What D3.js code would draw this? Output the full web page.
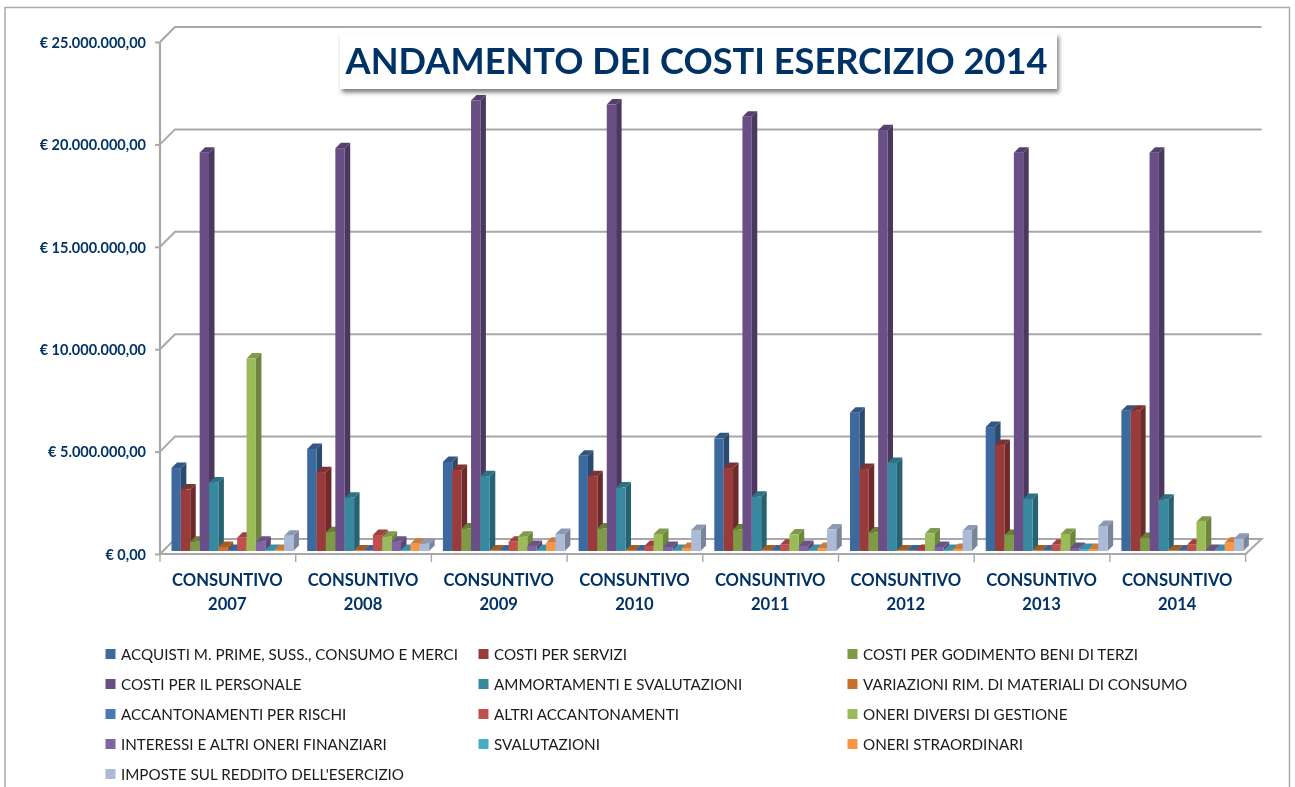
<!DOCTYPE html>
<html><head><meta charset="utf-8">
<script src="https://cdn.jsdelivr.net/npm/d3@7/dist/d3.min.js"></script>
<style>html,body{margin:0;padding:0;background:#fff}svg{display:block}</style></head>
<body><svg id="c" width="1295" height="787"></svg>
<script>
const years = ["2007","2008","2009","2010","2011","2012","2013","2014"];
const yTicks = [0,5e6,10e6,15e6,20e6,25e6];
const seriesNames = ["ACQUISTI M. PRIME, SUSS., CONSUMO E MERCI","COSTI PER SERVIZI","COSTI PER GODIMENTO BENI DI TERZI","COSTI PER IL PERSONALE","AMMORTAMENTI E SVALUTAZIONI","VARIAZIONI RIM. DI MATERIALI DI CONSUMO","ACCANTONAMENTI PER RISCHI","ALTRI ACCANTONAMENTI","ONERI DIVERSI DI GESTIONE","INTERESSI E ALTRI ONERI FINANZIARI","SVALUTAZIONI","ONERI STRAORDINARI","IMPOSTE SUL REDDITO DELL'ESERCIZIO"];
const seriesColors = ["#3e6a9e","#9a3b3a","#7f9a45","#694f85","#37899f","#c8702a","#4a7ab5","#c0504d","#9bbb59","#8064a2","#4bacc6","#f79646","#aabad7"];
const acquisti = [4.05,4.98,4.35,4.65,5.5,6.75,6.05,6.85];
const servizi = [3.0,3.85,3.95,3.65,4.05,4.0,5.17,6.85];
const godimento = [.45,.92,1.1,1.1,1.05,.9,.78,.63];
const personale = [19.45,19.67,22.0,21.8,21.2,20.55,19.45,19.45];
const ammortamenti = [3.35,2.6,3.65,3.1,2.65,4.3,2.54,2.5];
const variazioni = [.2,.03,.03,.03,.03,.03,.03,.03];
const rischi = [.05,.03,.03,.03,.03,.03,.03,.03];
const altriAcc = [.65,.78,.45,.25,.3,.05,.3,.3];
const oneriDiversi = [9.4,.7,.7,.83,.8,.85,.83,1.43];
const interessi = [.45,.45,.25,.2,.25,.2,.15,.05];
const svalutazioni = [.05,.05,.05,.05,.05,.05,.1,.05];
const straordinari = [.05,.35,.4,.15,.15,.1,.1,.4];
const imposte = [.75,.35,.83,1.03,1.05,1.0,1.22,.6];
const allSeries = [acquisti,servizi,godimento,personale,ammortamenti,variazioni,rischi,altriAcc,oneriDiversi,interessi,svalutazioni,straordinari,imposte];

const svg = d3.select("#c");
const navy = "#003366", gridC = "#a8a8a8";
const font = "Lato, 'Open Sans', sans-serif";
const dep = 15;
const y = d3.scaleLinear().domain([0,25e6]).range([554,42]);
const x = d3.scaleBand().domain(years).range([160,1245.6]);
const barW = 9.35, barD = 5.5, barLeft = 11.5, baseShift = 3, barStep = 112.6/12;

const defs = svg.append("defs");
defs.append("filter").attr("id","soft").append("feGaussianBlur").attr("stdDeviation",0.5);
defs.append("filter").attr("id","softT").append("feGaussianBlur").attr("stdDeviation",0.3);
const sh = defs.append("filter").attr("id","shadow").attr("x","-5%").attr("y","-20%").attr("width","110%").attr("height","150%");
sh.append("feDropShadow").attr("dx",2).attr("dy",3.5).attr("stdDeviation",2.2).attr("flood-color","#000").attr("flood-opacity",.5);

svg.append("path").attr("d","M5,790V7.5H1289.5V790").attr("fill","none").attr("stroke","#ababab").attr("stroke-width",1.5);

const plot = svg.append("g").attr("filter","url(#soft)");
plot.append("path").attr("d",d3.line()([[x.range()[0],y(0)],[x.range()[1],y(0)],[x.range()[1]+dep+1,y(0)-dep],[x.range()[0]+dep,y(0)-dep]])+"Z")
  .attr("fill","#fff").attr("stroke",gridC).attr("stroke-width",2);
plot.selectAll("path.grid").data(yTicks.slice(1)).join("path").attr("class","grid")
  .attr("d",d=>d3.line()([[x.range()[0],y(d)],[x.range()[0]+dep,y(d)-dep],[x.range()[1]+dep+1,y(d)-dep]]))
  .attr("fill","none").attr("stroke",gridC).attr("stroke-width",2);
plot.append("path").attr("d",d3.line()([[x.range()[0],y(0)],[x.range()[0],y(25e6)]])).attr("stroke",gridC).attr("stroke-width",2.2);

const bars = plot.append("g");
years.forEach((yr,g)=>{
  allSeries.forEach((s,i)=>{
    const c = d3.color(seriesColors[i]);
    const x0 = x(yr)+barLeft+i*barStep;
    const yb = y(0)-baseShift, top = y(s[g]*1e6)-baseShift;
    const G = bars.append("g");
    G.append("path").attr("d",`M${x0+barW},${yb}L${x0+barW+barD},${yb-barD}L${x0+barW+barD},${top-barD}L${x0+barW},${top}Z`).attr("fill",c.darker(.95));
    G.append("path").attr("d",`M${x0},${top}L${x0+barD},${top-barD}L${x0+barW+barD},${top-barD}L${x0+barW},${top}Z`).attr("fill",c.darker(.55));
    G.append("rect").attr("x",x0).attr("y",top).attr("width",barW).attr("height",yb-top).attr("fill",c);
  });
});

const yAxis = d3.axisLeft(y).tickValues(yTicks).tickSize(5).tickPadding(9)
  .tickFormat(d=>"€ "+d3.format(",.2f")(d).replace(/,/g,"#").replace(".",",").replace(/#/g,"."));
const ga = svg.append("g").attr("transform","translate(160,0)").call(yAxis);
ga.select(".domain").remove();
ga.selectAll("line").attr("stroke",gridC).attr("stroke-width",2);
ga.selectAll("text").attr("font-family",font).attr("font-weight",700).attr("font-size",14.5).attr("fill",navy).attr("dy","0.36em").attr("filter","url(#softT)");

const gx = svg.append("g").attr("transform",`translate(0,${y(0)})`);
gx.selectAll("line.sep").data(d3.range(9)).join("line").attr("class","sep")
  .attr("x1",d=>x.range()[0]+d*x.step()).attr("x2",d=>x.range()[0]+d*x.step()).attr("y1",0).attr("y2",8)
  .attr("stroke",gridC).attr("stroke-width",1.4);
const xl = svg.append("g").selectAll("text").data(years).join("text")
  .attr("text-anchor","middle").attr("font-family",font).attr("font-weight",700).attr("font-size",16.6).attr("fill",navy)
  .attr("filter","url(#softT)")
  .attr("transform",d=>`translate(${x(d)+x.bandwidth()/2-0.5},0)`);
xl.append("tspan").attr("x",0).attr("y",586).text("CONSUNTIVO");
xl.append("tspan").attr("x",0).attr("y",609.5).text(d=>d);

svg.append("rect").attr("x",340).attr("y",33).attr("width",717).attr("height",56).attr("fill","#fff").attr("filter","url(#shadow)");
svg.append("text").attr("x",696.5).attr("y",74).attr("text-anchor","middle").attr("font-family",font).attr("font-weight",700)
  .attr("font-size",36.2).attr("fill",navy).attr("filter","url(#softT)").text("ANDAMENTO DEI COSTI ESERCIZIO 2014");

const legX = [105.5,478.5,847.5], legY = d3.scaleLinear().domain([0,4]).range([654,774]);
const leg = svg.append("g").selectAll("g").data(seriesNames).join("g")
  .attr("transform",(d,i)=>`translate(${legX[i%3]},${legY(Math.floor(i/3))})`);
leg.append("rect").attr("x",0).attr("y",-5).attr("width",10).attr("height",10).attr("fill",(d,i)=>seriesColors[i]);
leg.append("text").attr("x",15.5).attr("y",5.5).attr("font-family",font).attr("font-size",15.2).attr("fill","#1a1a1a").attr("filter","url(#softT)").text(d=>d);
</script></body></html>
